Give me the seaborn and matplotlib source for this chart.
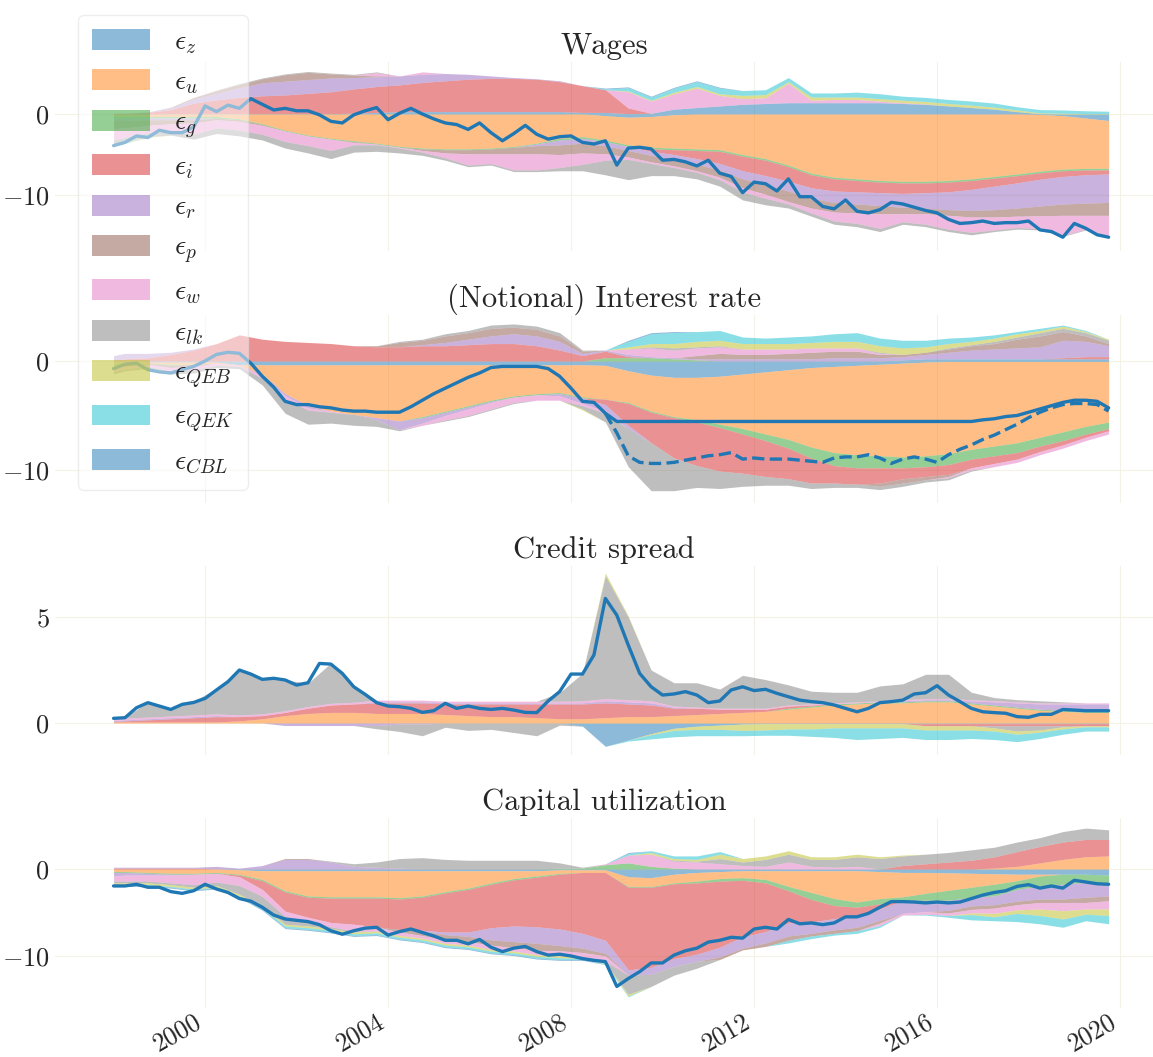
import numpy as np
import pandas as pd
import seaborn as sns
import matplotlib
matplotlib.use("Agg")
import matplotlib.pyplot as plt
from matplotlib.patches import Patch

# ---------------------------------------------------------------- data
shocks = ["z", "u", "g", "i", "r", "p", "w", "lk", "QEB", "QEK", "CBL"]
quarters = 1998 + 0.25 * np.arange(88)                      # 1998Q1 .. 2019Q4
band_dates = np.r_[1998.0, np.arange(1998.25, 2019.8, 0.5)]  # 45 points for the bands

wages_obs = [-3.9, -3.5, -2.7, -2.9, -2.0, -2.3, -2.3, -1.6,
             1.0, 0.3, 1.1, 0.7, 1.9, 1.2, 0.5, 0.7,
             0.4, 0.4, -0.1, -0.9, -1.1, -0.1, 0.4, 0.8,
             -0.7, 0.1, 0.7, 0.0, -0.6, -1.1, -1.3, -1.9,
             -1.1, -2.3, -3.3, -2.4, -1.4, -2.5, -3.1, -2.8,
             -2.7, -3.5, -3.7, -3.3, -6.3, -4.2, -4.1, -4.3,
             -5.7, -5.6, -5.9, -6.4, -5.7, -7.3, -7.7, -9.7,
             -8.4, -8.6, -9.5, -8.0, -10.2, -10.2, -11.4, -11.7,
             -10.6, -12.0, -12.2, -11.8, -10.9, -11.1, -11.5, -11.9,
             -12.2, -13.0, -13.5, -13.4, -13.2, -13.5, -13.4, -13.4,
             -13.2, -14.3, -14.5, -15.2, -13.5, -14.1, -14.9, -15.2]

rate_obs = [-0.7, -0.3, -0.2, -0.8, -1.0, -1.1, -0.8, -0.5,
            0.0, 0.6, 0.8, 0.7, -0.2, -1.4, -2.4, -3.7,
            -4.0, -4.0, -4.2, -4.3, -4.5, -4.6, -4.6, -4.7,
            -4.7, -4.7, -4.2, -3.6, -3.0, -2.5, -2.0, -1.5,
            -1.1, -0.6, -0.5, -0.5, -0.5, -0.5, -0.7, -1.4,
            -2.5, -3.7, -3.8, -4.8, -5.55, -5.55, -5.55, -5.55,
            -5.55, -5.55, -5.55, -5.55, -5.55, -5.55, -5.55, -5.55,
            -5.55, -5.55, -5.55, -5.55, -5.55, -5.55, -5.55, -5.55,
            -5.55, -5.55, -5.55, -5.55, -5.55, -5.55, -5.55, -5.55,
            -5.55, -5.55, -5.55, -5.55, -5.4, -5.3, -5.1, -5.0,
            -4.7, -4.4, -4.1, -3.8, -3.6, -3.6, -3.7, -4.3]

# shadow (notional) rate, from 2008Q4 on
shadow_obs = [-4.8, -6.6, -8.7, -9.3, -9.4, -9.4, -9.3, -9.1, -8.9, -8.7,
              -8.6, -8.4, -9.0, -8.9, -9.0, -9.0, -9.0, -9.1, -9.2, -9.3,
              -8.9, -8.8, -8.8, -8.6, -8.9, -9.4, -9.0, -8.8, -9.0, -9.3,
              -8.6, -8.1, -7.7, -7.2, -6.8, -6.3, -5.8, -5.2, -4.7, -4.3,
              -4.0, -3.9, -3.9, -4.0, -4.6]

spread_obs = [0.22, 0.25, 0.72, 0.96, 0.80, 0.64, 0.88, 0.97,
              1.16, 1.56, 1.95, 2.50, 2.31, 2.06, 2.11, 2.03,
              1.79, 1.90, 2.81, 2.78, 2.34, 1.71, 1.35, 0.96,
              0.80, 0.77, 0.69, 0.50, 0.58, 0.93, 0.69, 0.80,
              0.69, 0.64, 0.69, 0.61, 0.50, 0.49, 1.04, 1.48,
              2.31, 2.31, 3.21, 5.88, 5.09, 3.68, 2.34, 1.71,
              1.32, 1.37, 1.48, 1.32, 0.96, 1.04, 1.56, 1.71,
              1.53, 1.59, 1.40, 1.24, 1.08, 1.01, 0.96, 0.85,
              0.69, 0.53, 0.69, 0.96, 1.01, 1.08, 1.37, 1.43,
              1.76, 1.32, 1.01, 0.69, 0.53, 0.49, 0.46, 0.30,
              0.27, 0.41, 0.41, 0.64, 0.61, 0.58, 0.58, 0.58]

util_obs = [-1.95, -1.95, -1.76, -2.1, -2.1, -2.6, -2.8, -2.5,
            -1.76, -2.3, -2.7, -3.4, -3.7, -4.4, -5.3, -5.75,
            -5.9, -6.05, -6.4, -7.1, -7.5, -7.1, -6.8, -6.7,
            -7.6, -7.2, -6.9, -7.3, -7.7, -8.2, -8.2, -8.6,
            -8.1, -9.0, -9.5, -9.1, -8.9, -9.5, -9.9, -9.8,
            -10.0, -10.3, -10.5, -10.65, -13.5, -12.6, -11.8, -10.8,
            -10.8, -9.9, -9.4, -9.1, -8.4, -8.2, -7.85, -7.95,
            -6.9, -6.7, -6.9, -5.8, -6.3, -6.2, -6.4, -6.2,
            -5.5, -5.5, -5.1, -4.4, -3.75, -3.75, -3.8, -3.9,
            -3.8, -3.9, -3.8, -3.4, -3.0, -2.7, -2.5, -2.0,
            -1.8, -2.2, -1.95, -2.2, -1.3, -1.5, -1.7, -1.76]

# ---- shock contributions on band_dates (positive part / negative part)
wages_pos = {
    "z":   [0, 0, 0, 0.05, 0.05, 0.05, 0.05, 0.05, 0.05, 0.05, 0.05, 0.1, 0.2, 0.3, 0.3,
            0.3, 0.3, 0.3, 0.3, 0.3, 0.3, 0.2, 0.2, 0.05, 0.1, 0.6, 0.8, 1.0, 1.2, 1.3,
            1.4, 1.4, 1.4, 1.4, 1.4, 1.3, 1.2, 1.0, 0.8, 0.6, 0.3, 0.05, 0, 0, 0],
    "i":   [0.1, 0.1, 0.2, 0.5, 1.3, 1.7, 2.0, 2.2, 2.3, 2.5, 2.7, 3.0, 3.2, 3.3, 3.6,
            3.8, 4.0, 4.1, 4.1, 4.0, 3.7, 3.3, 2.8, 0.7, 0, 0, 0, 0, 0, 0,
            0, 0, 0, 0, 0, 0, 0, 0, 0, 0, 0, 0, 0, 0, 0],
    "r":   [0, 0, 0.05, 0.2, 0.5, 0.8, 1.2, 1.6, 1.7, 1.7, 1.7, 1.4, 1.2, 1.1, 1.0,
            0.9, 0.6, 0.3, 0.1, 0.05, 0.1, 0, 0, 0, 0, 0, 0, 0, 0, 0,
            0, 0, 0, 0, 0, 0, 0, 0, 0, 0, 0, 0, 0, 0, 0],
    "p":   [0, 0, 0, 0.1, 0.2, 0.3, 0.4, 0.5, 0.8, 0.9, 0.5, 0.3, 0.1, 0, 0,
            0, 0, 0, 0, 0, 0, 0, 0, 0, 0, 0, 0, 0, 0, 0,
            0, 0, 0, 0, 0, 0, 0, 0, 0, 0, 0, 0, 0, 0, 0],
    "w":   [0, 0, 0, 0, 0, 0, 0, 0, 0, 0, 0, 0, 0.4, 0, 0.3,
            0, 0, 0, 0, 0, 0, 0, 0, 2.0, 1.5, 1.9, 2.4, 1.3, 0.7, 0.7,
            2.4, 0.3, 0.4, 0.4, 0.2, 0.1, 0.05, 0, 0, 0, 0, 0, 0, 0, 0],
    "lk":  [0, 0, 0, 0, 0, 0.1, 0.1, 0.1, 0.1, 0.1, 0.1, 0.1, 0.1, 0, 0,
            0, 0, 0, 0, 0, 0, 0, 0, 0, 0, 0, 0, 0, 0, 0,
            0, 0, 0, 0, 0, 0, 0, 0, 0, 0, 0, 0, 0, 0, 0],
    "QEB": [0, 0, 0, 0, 0, 0, 0, 0, 0, 0, 0, 0, 0, 0, 0,
            0, 0, 0, 0, 0, 0, 0, 0, 0.1, 0.1, 0.2, 0.2, 0.2, 0.4, 0.4,
            0.2, 0.4, 0.3, 0.3, 0.3, 0.3, 0.3, 0.3, 0.3, 0.25, 0.2, 0.1, 0.1, 0.05, 0.05],
    "QEK": [0, 0, 0, 0, 0, 0, 0, 0, 0, 0, 0, 0, 0, 0, 0,
            0, 0, 0, 0, 0, 0, 0, 0.1, 0.4, 0.4, 0.5, 0.6, 0.7, 0.6, 0.6,
            0.5, 0.5, 0.5, 0.6, 0.6, 0.5, 0.5, 0.5, 0.5, 0.5, 0.4, 0.4, 0.4, 0.35, 0.3],
    "CBL": [0, 0, 0, 0, 0, 0, 0, 0, 0, 0, 0, 0, 0, 0, 0,
            0, 0, 0, 0, 0, 0, 0, 0.1, 0.1, 0.1, 0.1, 0.1, 0.1, 0, 0,
            0, 0, 0, 0, 0, 0, 0, 0, 0, 0, 0, 0, 0, 0, 0],
}
wages_neg = {
    "z":   [0, 0, 0, 0, 0, 0, 0, 0, 0, 0, 0, 0, 0, 0, 0,
            0, 0, 0, 0, 0, 0, 0, -0.2, -0.4, -0.3, -0.1, 0, 0, 0, 0,
            0, 0, 0, 0, 0, 0, 0, 0, 0, 0, 0, -0.05, -0.2, -0.5, -0.8],
    "u":   [-0.3, -0.3, -0.3, -0.3, -0.3, -0.3, -0.6, -1.2, -2.0, -2.6, -3.0, -3.3, -3.6, -4.0, -4.2,
            -4.3, -4.3, -4.2, -4.0, -3.6, -3.0, -2.8, -3.0, -3.4, -3.8, -4.1, -4.3, -4.4, -5.0, -5.5,
            -6.3, -7.3, -7.8, -8.0, -8.2, -8.3, -8.3, -8.2, -8.0, -7.7, -7.4, -7.0, -6.6, -6.2, -5.9],
    "g":   [-0.2, -0.2, -0.2, -0.2, -0.2, -0.2, -0.1, -0.1, -0.1, -0.1, -0.1, -0.1, -0.1, -0.1, -0.1,
            -0.1, -0.1, -0.1, -0.1, -0.1, -0.2, -0.2, -0.2, -0.2, -0.2, -0.2, -0.2, -0.2, -0.2, -0.2,
            -0.2, -0.2, -0.2, -0.2, -0.2, -0.2, -0.2, -0.2, -0.2, -0.2, -0.2, -0.2, -0.2, -0.2, -0.2],
    "i":   [0, 0, 0, 0, 0, 0, 0, 0, 0, 0, 0, 0, 0, 0, 0,
            0, 0, 0, 0, 0, 0, 0, 0, 0, -0.3, -0.6, -1.0, -1.5, -1.8, -1.9,
            -1.8, -1.6, -1.5, -1.4, -1.3, -1.3, -1.2, -1.2, -1.1, -1.0, -0.9, -0.8, -0.7, -0.6, -0.5],
    "r":   [-0.3, -0.3, -0.2, -0.2, -0.2, 0, 0, 0, 0, 0, 0, 0, 0, 0, 0,
            0, 0, 0, 0, -0.2, -0.6, -0.6, -0.5, -0.5, -0.5, -0.6, -0.7, -0.8, -1.0, -1.1,
            -1.2, -1.3, -1.4, -1.5, -1.6, -1.7, -1.9, -2.2, -2.6, -2.9, -3.1, -3.3, -3.4, -3.5, -3.5],
    "p":   [-1.0, -0.9, -0.7, -0.5, -0.4, -0.2, -0.2, -0.1, 0, 0, 0, -0.1, 0, 0, -0.2,
            -0.4, -0.5, -0.6, -0.8, -1.0, -1.2, -1.2, -1.0, -0.8, -0.8, -0.8, -0.8, -0.9, -1.1, -1.2,
            -1.3, -1.2, -1.2, -1.1, -1.0, -0.8, -0.7, -0.7, -0.8, -0.9, -1.0, -1.2, -1.4, -1.5, -1.6],
    "w":   [-1.4, -1.2, -0.9, -0.9, -1.4, -1.0, -1.1, -1.1, -1.3, -1.2, -1.4, -0.3, -0.1, -0.1, -0.2,
            -0.6, -1.4, -1.2, -2.0, -2.0, -1.6, -1.4, -0.8, -0.3, -0.2, -0.2, -0.2, -0.3, -0.5, -0.5,
            -0.3, -0.6, -1.1, -1.3, -1.8, -1.0, -1.3, -1.7, -1.9, -1.6, -1.4, -1.6, -2.5, -1.7, -2.6],
    "lk":  [-0.5, -0.5, -0.5, -0.5, -0.6, -0.7, -0.7, -0.7, -0.8, -0.9, -1.0, -0.9, -0.8, -0.6, -0.4,
            -0.3, -0.2, -0.2, -0.2, -0.2, -0.4, -0.8, -1.8, -2.5, -1.5, -1.0, -0.8, -0.8, -1.0, -0.8,
            -0.5, -0.4, -0.4, -0.4, -0.4, -0.3, -0.3, -0.3, -0.3, -0.2, -0.2, -0.15, -0.1, -0.1, -0.1],
    "QEB": [-0.2, -0.1, -0.1, 0, 0, 0, 0, 0, 0, 0, 0, 0, 0, 0, 0,
            0, 0, 0, 0, 0, 0, 0, 0, 0, 0, 0, 0, 0, 0, 0,
            0, 0, 0, 0, 0, 0, 0, 0, 0, 0, 0, 0, 0, 0, 0],
    "QEK": [-0.1, -0.1, 0, 0, 0, 0, 0, 0, 0, 0, 0, 0, 0, 0, 0,
            0, 0, 0, 0, 0, 0, 0, 0, 0, 0, 0, 0, 0, 0, 0,
            0, 0, 0, 0, 0, 0, 0, 0, 0, 0, 0, 0, 0, 0, 0],
}

rate_pos = {
    "z":   [0, 0, 0, 0, 0, 0, 0, 0, 0, 0, 0, 0, 0, 0, 0,
            0, 0, 0, 0, 0, 0, 0, 0, 0, 0, 0, 0, 0, 0, 0,
            0, 0, 0, 0, 0, 0.1, 0.2, 0.2, 0.2, 0.2, 0.2, 0.2, 0.2, 0.2, 0.2],
    "g":   [0, 0, 0, 0, 0, 0, 0, 0, 0, 0, 0, 0, 0, 0, 0,
            0, 0, 0, 0, 0, 0, 0, 0.3, 0.3, 0.3, 0.2, 0.1, 0, 0, 0,
            0, 0, 0, 0, 0, 0, 0, 0, 0, 0, 0, 0, 0, 0, 0],
    "i":   [0.1, 0.2, 0.3, 0.6, 1.0, 1.6, 2.4, 2.0, 1.8, 1.7, 1.6, 1.4, 1.3, 1.3, 1.4,
            1.4, 1.5, 1.6, 1.6, 1.4, 1.0, 0.5, 0.6, 0.1, 0, 0, 0, 0, 0, 0,
            0, 0, 0, 0, 0, 0, 0, 0, 0, 0, 0, 0, 0.1, 0.2, 0.2],
    "r":   [0.4, 0.5, 0.4, 0.2, 0.1, 0, 0, 0, 0, 0, 0, 0, 0, 0, 0.1,
            0.3, 0.5, 0.7, 0.9, 0.9, 0.8, 0.2, 0.1, 0.2, 0.1, 0.1, 0.1, 0.2, 0.2, 0.2,
            0.2, 0.2, 0.3, 0.3, 0.3, 0.3, 0.4, 0.6, 0.8, 0.9, 1.0, 1.1, 1.6, 1.4, 1.0],
    "p":   [0, 0, 0, 0, 0, 0, 0, 0, 0, 0, 0, 0, 0.1, 0.4, 0.4,
            0.6, 0.6, 0.7, 0.6, 0.6, 0.5, 0.2, 0, 0, 0, 0, 0.3, 0.5, 0.4, 0.4,
            0.5, 0.6, 0.6, 0.6, 0.3, 0.2, 0.2, 0.3, 0.4, 0.5, 0.8, 1.0, 0.8, 0.5, 0.2],
    "w":   [0, 0, 0, 0, 0, 0, 0, 0, 0, 0, 0, 0, 0, 0, 0,
            0, 0, 0, 0, 0, 0, 0, 0, 0.5, 0.8, 0.7, 0.7, 0.6, 0.5, 0.5,
            0.4, 0.4, 0.3, 0.3, 0.1, 0, 0, 0, 0, 0, 0, 0, 0, 0, 0],
    "lk":  [0, 0, 0, 0, 0, 0, 0, 0, 0, 0, 0, 0, 0, 0.1, 0.1,
            0.2, 0.2, 0.3, 0.3, 0.3, 0.3, 0.1, 0, 0, 0.1, 0.2, 0.1, 0.1, 0, 0,
            0, 0, 0, 0, 0.1, 0, 0, 0.1, 0.1, 0.2, 0.2, 0.3, 0.3, 0.3, 0.3],
    "QEB": [0, 0, 0, 0, 0, 0, 0, 0, 0, 0, 0, 0, 0, 0, 0,
            0, 0, 0, 0, 0, 0, 0, 0, 0.2, 0.3, 0.4, 0.5, 0.5, 0.5, 0.5,
            0.5, 0.5, 0.6, 0.6, 0.6, 0.6, 0.5, 0.4, 0.3, 0.3, 0.3, 0.2, 0.2, 0.1, 0.1],
    "QEK": [0, 0, 0, 0, 0, 0, 0, 0, 0, 0, 0, 0, 0, 0, 0,
            0, 0, 0, 0, 0, 0, 0, 0, 0.5, 0.9, 1.0, 0.9, 0.9, 0.6, 0.5,
            0.6, 0.6, 0.7, 0.8, 0.7, 0.7, 0.6, 0.5, 0.4, 0.3, 0.2, 0.2, 0.1, 0.1, 0],
    "CBL": [0, 0, 0, 0, 0, 0, 0, 0, 0, 0, 0, 0, 0, 0, 0,
            0, 0, 0, 0, 0, 0, 0, 0, 0.1, 0.1, 0.1, 0, 0, 0, 0,
            0, 0, 0, 0, 0, 0, 0, 0, 0, 0, 0, 0, 0, 0, 0],
}
rate_neg = {
    "z":   [-0.1, -0.1, -0.1, -0.1, -0.1, -0.1, -0.35, -0.35, -0.35, -0.35, -0.35, -0.35, -0.35, -0.35, -0.35,
            -0.35, -0.35, -0.35, -0.35, -0.35, -0.35, -0.35, -0.4, -0.9, -1.3, -1.5, -1.5, -1.4, -1.2, -1.0,
            -0.8, -0.6, -0.5, -0.4, -0.3, -0.2, -0.1, -0.05, -0.05, -0.05, -0.05, -0.05, -0.05, -0.05, -0.05],
    "u":   [-0.1, -0.1, -0.1, -0.2, -0.2, -0.1, -0.05, -0.85, -2.65, -3.75, -4.25, -4.55, -4.85, -5.15, -4.75,
            -4.25, -3.75, -3.25, -2.85, -2.65, -2.55, -2.95, -3.1, -2.9, -3.3, -3.6, -3.9, -4.4, -5.0, -5.7,
            -6.4, -7.3, -7.9, -8.2, -8.4, -8.6, -8.6, -8.45, -8.05, -7.75, -7.45, -6.95, -6.45, -5.95, -5.55],
    "g":   [-0.2, -0.1, 0, -0.1, 0, 0, 0, 0, 0, 0, 0, 0, 0, 0, -0.1,
            -0.1, -0.1, -0.1, -0.1, -0.1, -0.1, -0.1, 0, -0.1, -0.1, -0.1, -0.2, -0.3, -0.5, -0.6,
            -0.8, -1.0, -1.2, -1.2, -1.1, -1.0, -1.0, -1.0, -0.9, -0.9, -0.9, -0.8, -0.8, -0.7, -0.6],
    "i":   [0, 0, 0, 0, 0, 0, 0, 0, 0, 0, 0, 0, 0, 0, 0,
            0, 0, 0, 0, 0, 0, 0, -0.5, -2.0, -2.8, -3.7, -4.0, -4.0, -3.6, -3.3,
            -2.8, -2.3, -1.6, -1.5, -1.4, -1.0, -0.9, -0.9, -0.8, -0.7, -0.6, -0.5, -0.4, -0.3, -0.2],
    "r":   [0, 0, 0, 0, 0, 0, 0, -0.1, -0.2, -0.2, 0, 0, -0.2, -0.8, -0.5,
            -0.3, -0.2, -0.1, 0, 0, -0.2, -0.5, -0.6, -0.3, 0, 0, 0, 0, 0, 0,
            0, 0, 0, 0, 0, 0, 0, 0, 0, 0, 0, 0, 0, 0, 0],
    "p":   [-0.2, -0.2, -0.1, -0.2, -0.2, 0, 0, 0, 0, 0, 0, 0, 0, 0, 0,
            0, 0, 0, 0, 0, 0, 0, 0, 0, 0, 0, 0, 0, 0, 0,
            0, 0, 0, 0, -0.3, -0.4, -0.3, -0.2, 0, 0, 0, 0, 0, 0, 0],
    "w":   [-0.3, -0.2, -0.2, -0.3, -0.3, -0.2, -0.1, -0.3, -0.3, -0.2, -0.1, 0, 0, 0, -0.2,
            -0.4, -0.6, -0.6, -0.5, -0.5, -0.4, -0.2, -0.2, 0, 0, 0, 0, 0, 0, 0,
            0, 0, 0, 0, 0, 0, 0, -0.1, -0.2, -0.3, -0.3, -0.3, -0.3, -0.3, -0.3],
    "lk":  [-0.3, -0.2, -0.2, -0.3, -0.3, -0.2, -0.2, -0.6, -1.3, -1.3, -1.0, -1.0, -0.6, -0.1, 0,
            -0.1, -0.1, -0.1, -0.1, 0, 0, -0.3, -0.8, -3.5, -4.4, -3.0, -2.0, -1.6, -1.2, -0.8,
            -0.6, -0.5, -0.4, -0.3, -0.3, -0.3, -0.2, -0.2, -0.1, 0, 0, 0, 0, 0, 0],
    "QEB": [0, 0, 0, 0, 0, 0, 0, 0, 0, 0, 0, 0, 0, 0, 0,
            0, 0, 0, 0, 0, 0, -0.1, 0, 0, 0, 0, 0, 0, 0, 0,
            0, 0, 0, 0, 0, 0, 0, 0, 0, 0, 0, 0, 0, 0, 0],
}

spread_pos = {
    "u":   [0.05, 0.05, 0.05, 0.05, 0.05, 0.05, 0.1, 0.2, 0.35, 0.45, 0.5, 0.5, 0.45, 0.45, 0.45,
            0.4, 0.35, 0.3, 0.3, 0.25, 0.2, 0.2, 0.25, 0.3, 0.3, 0.35, 0.4, 0.45, 0.5, 0.55,
            0.65, 0.75, 0.85, 0.9, 0.95, 0.95, 1.0, 1.0, 0.9, 0.8, 0.7, 0.6, 0.55, 0.5, 0.5],
    "g":   [0, 0, 0, 0, 0, 0, 0, 0, 0, 0, 0, 0, 0, 0, 0,
            0, 0, 0, 0, 0, 0, 0, 0, 0, 0, 0, 0, 0, 0, 0,
            0.05, 0.05, 0.05, 0.05, 0.05, 0.05, 0.05, 0.05, 0.05, 0.05, 0.05, 0.05, 0.05, 0.05, 0.05],
    "i":   [0.02, 0.05, 0.1, 0.15, 0.2, 0.25, 0.2, 0.15, 0.15, 0.25, 0.35, 0.4, 0.5, 0.5, 0.5,
            0.5, 0.55, 0.6, 0.6, 0.65, 0.7, 0.7, 0.7, 0.6, 0.55, 0.35, 0.3, 0.2, 0.15, 0.1,
            0.1, 0.05, 0, 0, 0, 0, 0, 0, 0, 0, 0, 0, 0, 0, 0],
    "r":   [0.05, 0.05, 0.05, 0.05, 0.05, 0.05, 0, 0, 0, 0, 0, 0, 0.05, 0.05, 0.05,
            0.05, 0.05, 0.05, 0.05, 0.05, 0.05, 0.05, 0.1, 0.1, 0.1, 0.05, 0, 0, 0, 0,
            0, 0, 0, 0, 0, 0.05, 0.05, 0.05, 0.1, 0.15, 0.2, 0.25, 0.3, 0.35, 0.35],
    "w":   [0.08, 0.08, 0.08, 0.08, 0.08, 0.08, 0.08, 0.08, 0.08, 0.08, 0.08, 0.08, 0.08, 0.08, 0.08,
            0.08, 0.08, 0.08, 0.08, 0.08, 0.08, 0.1, 0.1, 0.1, 0.1, 0.05, 0.05, 0.05, 0.05, 0.05,
            0.05, 0.05, 0.05, 0.05, 0.05, 0.05, 0.05, 0.05, 0.05, 0.05, 0.05, 0.05, 0.05, 0.05, 0.05],
    "lk":  [0.05, 0.05, 0.7, 0.35, 0.65, 1.2, 2.1, 1.65, 1.45, 1.1, 1.9, 0.75, 0, 0, 0,
            0, 0, 0, 0, 0, 0.4, 1.3, 5.8, 3.9, 1.45, 1.1, 1.15, 0.9, 1.55, 1.35,
            0.95, 0.6, 0.5, 0.45, 0.7, 0.75, 1.15, 1.15, 0.35, 0.15, 0.1, 0.1, 0.05, 0, 0],
    "QEB": [0, 0, 0, 0, 0, 0, 0, 0, 0, 0, 0, 0, 0, 0, 0,
            0, 0, 0, 0, 0, 0, 0, 0.12, 0.05, 0, 0, 0, 0, 0, 0,
            0, 0, 0, 0, 0, 0, 0, 0, 0, 0, 0, 0, 0, 0, 0],
}
spread_neg = {
    "z":   [0, 0, 0, 0, 0, 0, 0, 0, 0, 0, 0, 0, 0, 0, 0,
            0, 0, 0, 0, 0, 0, -0.15, -1.1, -0.8, -0.5, -0.25, -0.15, -0.1, -0.05, -0.03,
            -0.03, -0.03, -0.03, -0.03, -0.03, -0.03, -0.03, -0.03, -0.03, -0.03, -0.03, -0.03, -0.03, -0.03, -0.03],
    "i":   [0, 0, 0, 0, 0, 0, 0, 0, 0, 0, 0, 0, 0, 0, 0,
            0, 0, 0, 0, 0, 0, 0, 0, 0, 0, 0, 0, 0, 0, 0,
            0, 0, 0, 0, 0, 0, -0.1, -0.1, -0.1, -0.1, -0.1, -0.1, -0.1, -0.1, -0.1],
    "r":   [0, 0, 0, 0, 0, 0, 0, 0, -0.12, -0.12, -0.12, -0.12, -0.12, -0.05, -0.05,
            0, 0, 0, 0, 0, 0, 0, 0, 0, 0, 0, 0, 0, 0, 0,
            0, 0, 0, 0, 0, 0, 0, 0, 0, 0, 0, 0, 0, 0, 0],
    "lk":  [0, 0, 0, 0, 0, 0, 0, 0, 0, 0, 0, 0, -0.15, -0.35, -0.55,
            -0.2, -0.35, -0.3, -0.45, -0.6, -0.1, 0, 0, 0, 0, 0, 0, 0, 0, 0,
            0, 0, 0, 0, 0, 0, 0, 0, 0, -0.1, -0.25, -0.2, -0.05, 0, 0],
    "QEB": [0, 0, 0, 0, 0, 0, 0, 0, 0, 0, 0, 0, 0, 0, 0,
            0, 0, 0, 0, 0, 0, 0, 0, 0, -0.05, -0.1, -0.15, -0.2, -0.3, -0.3,
            -0.25, -0.25, -0.2, -0.2, -0.2, -0.2, -0.2, -0.2, -0.2, -0.15, -0.15, -0.1, -0.1, -0.05, -0.05],
    "QEK": [0, 0, 0, 0, 0, 0, 0, 0, 0, 0, 0, 0, 0, 0, 0,
            0, 0, 0, 0, 0, 0, 0, 0, -0.05, -0.2, -0.3, -0.3, -0.3, -0.25, -0.25,
            -0.3, -0.35, -0.45, -0.55, -0.5, -0.45, -0.45, -0.45, -0.4, -0.4, -0.35, -0.3, -0.25, -0.2, -0.2],
}

util_pos = {
    "u":   [0, 0, 0, 0, 0, 0, 0, 0, 0, 0, 0, 0, 0, 0, 0,
            0, 0, 0, 0, 0, 0, 0, 0, 0, 0, 0, 0, 0, 0, 0,
            0, 0, 0, 0, 0, 0, 0, 0, 0, 0.1, 0.3, 0.7, 1.1, 1.4, 1.5],
    "g":   [0, 0, 0, 0, 0, 0, 0, 0, 0, 0, 0, 0, 0, 0, 0,
            0, 0, 0, 0, 0, 0.1, 0.1, 0.5, 0.7, 0.3, 0.1, 0, 0, 0, 0,
            0, 0, 0, 0, 0, 0, 0, 0, 0, 0, 0, 0, 0, 0, 0],
    "i":   [0.1, 0.1, 0.1, 0.1, 0.1, 0, 0, 0, 0, 0, 0, 0, 0, 0, 0,
            0, 0, 0, 0, 0, 0, 0, 0, 0, 0, 0, 0, 0, 0, 0,
            0, 0, 0, 0, 0, 0.4, 0.6, 0.8, 1.0, 1.3, 1.7, 1.9, 2.0, 2.0, 1.9],
    "r":   [0.1, 0.1, 0.1, 0.1, 0.1, 0.3, 0.1, 0.4, 1.1, 1.1, 0.8, 0.3, 0.2, 0.1, 0,
            0, 0, 0, 0, 0, 0, 0, 0, 0, 0, 0, 0, 0, 0, 0,
            0, 0, 0, 0, 0, 0, 0, 0, 0, 0, 0, 0, 0, 0, 0],
    "p":   [0, 0, 0, 0, 0, 0, 0, 0, 0.1, 0.1, 0, 0, 0, 0, 0,
            0, 0, 0, 0, 0, 0, 0, 0, 0, 0, 0, 0, 0, 0, 0,
            0, 0, 0, 0, 0, 0, 0, 0, 0, 0, 0, 0, 0, 0, 0],
    "w":   [0, 0, 0, 0, 0, 0, 0, 0, 0, 0, 0, 0, 0, 0, 0,
            0, 0, 0, 0, 0, 0, 0, 0.1, 0.9, 1.4, 0.8, 0.8, 0.6, 0.4, 0.3,
            0.8, 0.3, 0.2, 0.3, 0, 0, 0, 0, 0, 0, 0, 0, 0, 0, 0],
    "lk":  [0, 0, 0, 0, 0, 0, 0, 0, 0, 0, 0.1, 0.3, 0.6, 1.1, 1.3,
            1.1, 1.0, 1.0, 1.0, 1.0, 0.6, 0.1, 0, 0, 0, 0.1, 0.1, 0.6, 0.4, 0.8,
            0.9, 0.8, 0.9, 1.1, 1.2, 1.1, 1.1, 1.1, 1.2, 1.1, 1.1, 1.0, 1.2, 1.3, 1.1],
    "QEB": [0, 0, 0, 0, 0, 0, 0, 0, 0, 0, 0, 0, 0, 0, 0,
            0, 0, 0, 0, 0, 0, 0, 0, 0, 0.2, 0.2, 0.2, 0.5, 0.4, 0.4,
            0.4, 0.3, 0.3, 0.3, 0.2, 0.1, 0, 0, 0, 0, 0, 0, 0, 0, 0],
    "QEK": [0, 0, 0, 0, 0, 0, 0, 0, 0, 0, 0, 0, 0, 0, 0,
            0, 0, 0, 0, 0, 0, 0, 0, 0.2, 0.2, 0.3, 0.4, 0.3, 0, 0,
            0, 0, 0, 0, 0, 0, 0, 0, 0, 0, 0, 0, 0, 0, 0],
    "CBL": [0, 0, 0, 0, 0, 0, 0, 0, 0, 0, 0, 0, 0, 0, 0,
            0, 0, 0, 0, 0, 0, 0, 0, 0.1, 0, 0, 0, 0, 0, 0,
            0, 0, 0, 0, 0, 0, 0, 0, 0, 0, 0, 0, 0, 0, 0],
}
util_neg = {
    "z":   [0, 0, 0, 0, 0, 0, -0.1, -0.2, -0.2, -0.2, -0.2, -0.2, -0.2, -0.2, -0.2,
            -0.2, -0.2, -0.2, -0.2, -0.2, -0.1, -0.1, -0.1, -0.9, -1.0, -0.6, -0.4, -0.3, -0.2, -0.2,
            -0.2, -0.2, -0.2, -0.2, -0.3, -0.4, -0.4, -0.45, -0.5, -0.55, -0.6, -0.6, -0.6, -0.6, -0.7],
    "u":   [-0.3, -0.3, -0.4, -0.5, -0.5, -0.4, -0.5, -1.0, -2.3, -2.9, -3.0, -3.0, -3.0, -3.1, -2.9,
            -2.4, -2.0, -1.4, -0.9, -0.6, -0.4, -0.3, -0.3, -1.1, -1.0, -1.0, -1.0, -0.8, -0.8, -1.0,
            -1.8, -2.5, -3.2, -3.6, -3.1, -2.8, -2.4, -2.0, -1.6, -1.2, -0.75, -0.2, 0, 0, 0],
    "g":   [-0.1, -0.1, -0.1, -0.1, -0.1, -0.1, -0.1, -0.15, -0.15, -0.15, -0.15, -0.15, -0.15, -0.15, -0.15,
            -0.15, -0.15, -0.15, -0.15, -0.15, -0.1, 0, 0, -0.1, -0.1, -0.1, -0.2, -0.3, -0.3, -0.4,
            -0.5, -0.8, -0.8, -0.6, -0.6, -0.4, -0.8, -1.15, -1.15, -1.35, -1.0, -1.15, -1.15, -0.95, -0.85],
    "i":   [0, 0, 0, 0, 0, 0, -0.2, -1.0, -2.2, -2.3, -2.8, -3.0, -3.3, -3.5, -3.8,
            -4.5, -4.9, -5.0, -5.3, -5.7, -6.3, -7.0, -7.8, -9.5, -9.2, -8.6, -8.2, -7.6, -6.5, -5.6,
            -3.7, -2.6, -1.5, -1.0, -0.6, 0, 0, 0, 0, 0, 0, 0, 0, 0, 0],
    "r":   [-0.4, -0.3, -0.2, -0.1, 0, 0, 0, 0, 0, 0, 0, 0, 0, 0, -0.1,
            -0.3, -0.5, -1.4, -1.8, -1.9, -1.9, -1.7, -1.5, -0.6, -0.8, -0.9, -0.8, -1.1, -1.3, -1.3,
            -1.5, -1.3, -1.3, -1.3, -1.3, -1.5, -1.3, -1.15, -1.0, -1.0, -1.35, -1.5, -1.7, -1.7, -1.55],
    "p":   [0, 0, 0, 0, 0, 0, 0, 0, 0, 0, 0, 0, 0, -0.3, -0.5,
            -0.6, -0.6, -0.6, -0.7, -0.8, -0.6, -0.5, -0.3, 0, 0, 0, 0, -0.3, -0.2, -0.4,
            -0.5, -0.3, -0.4, -0.4, -0.3, 0, 0, -0.3, -0.4, -0.4, -0.4, -0.4, -0.4, -0.6, -0.55],
    "w":   [-0.6, -0.7, -0.7, -0.9, -1.2, -1.0, -1.0, -0.8, -0.6, -0.6, -0.5, -0.8, -0.5, -0.4, -0.3,
            -0.4, -0.4, -0.5, -0.4, -0.5, -0.6, -0.5, -0.6, 0, 0, 0, 0, 0, 0, 0,
            0, 0, 0, 0, -0.3, -0.2, -0.3, -0.3, -0.4, -0.6, -0.6, -0.75, -0.95, -0.75, -0.95],
    "lk":  [-0.2, -0.2, -0.2, -0.2, -0.3, -0.4, -1.0, -1.1, -0.9, -0.4, -0.2, -0.1, 0, 0, 0,
            0, 0, 0, 0, 0, 0, 0, -0.2, -2.2, -1.4, -1.0, -0.8, 0, 0, 0,
            0, 0, 0, 0, 0, 0, 0, 0, 0, 0, 0, 0, 0, 0, 0],
    "QEB": [-0.2, -0.2, -0.2, -0.2, -0.2, -0.2, -0.2, -0.2, -0.2, -0.2, -0.2, -0.2, -0.2, -0.2, -0.2,
            -0.2, -0.2, -0.2, -0.2, -0.2, -0.2, -0.2, -0.1, -0.2, 0, 0, 0, 0, 0, 0,
            0, 0, 0, 0, 0, 0, 0, 0, -0.2, -0.4, -0.4, -0.75, -0.95, -0.6, -0.75],
    "QEK": [-0.1, -0.1, -0.1, -0.1, -0.1, -0.1, -0.1, -0.2, -0.2, -0.2, -0.2, -0.2, -0.2, -0.2, -0.2,
            -0.2, -0.2, -0.2, -0.2, -0.2, -0.2, -0.1, -0.1, -0.1, 0, 0, 0, 0, 0, 0,
            -0.3, -0.3, -0.2, -0.3, -0.2, 0, -0.1, -0.2, -0.6, -0.45, -0.95, -0.95, -0.95, -0.75, -0.95],
    "CBL": [-0.1, -0.1, -0.1, -0.1, -0.1, -0.1, -0.1, -0.1, -0.1, -0.1, -0.1, -0.1, -0.1, -0.1, -0.1,
            -0.1, -0.1, -0.1, -0.1, -0.1, -0.1, -0.1, 0, 0, 0, 0, 0, 0, 0, 0,
            0, 0, 0, 0, 0, 0, 0, 0, 0, 0, 0, 0, 0, 0, 0],
}

titles = ["Wages", "(Notional) Interest rate", "Credit spread", "Capital utilization"]
year_ticks = [2000, 2004, 2008, 2012, 2016, 2020]

# ---------------------------------------------------------------- style
sns.set_style("whitegrid", {"grid.color": "#f4f1e6", "axes.edgecolor": "white"})
plt.rcParams["font.family"] = ["serif"]
plt.rcParams["font.serif"] = ["cmr10", "DejaVu Serif"]
plt.rcParams["mathtext.fontset"] = "cm"
plt.rcParams["axes.unicode_minus"] = False

palette = sns.color_palette("tab10")
shock_colors = [palette[k % 10] for k in range(len(shocks))]
line_color = palette[0]

fig = plt.figure(figsize=(11.53, 10.57), dpi=100)
W, H = 1153.0, 1057.0
panel_px = [(62, 251), (315, 503), (566, 755), (818, 1008)]
ylims = [(-16.9, 6.42), (-13.03, 4.22), (-1.51, 7.41), (-15.98, 5.86)]
yticks = [[-10, 0], [-10, 0], [0, 5], [-10, 0]]


def draw_bands(ax, pos, neg):
    n = len(band_dates)
    top = np.zeros(n)
    bot = np.zeros(n)
    for name, col in zip(shocks, shock_colors):
        if name in pos:
            v = np.asarray(pos[name], float)
            ax.fill_between(band_dates, top, top + v, color=col, alpha=0.5, lw=0)
            top = top + v
        if name in neg:
            v = np.asarray(neg[name], float)
            ax.fill_between(band_dates, bot + v, bot, color=col, alpha=0.5, lw=0)
            bot = bot + v


panels = [(wages_pos, wages_neg, wages_obs),
          (rate_pos, rate_neg, rate_obs),
          (spread_pos, spread_neg, spread_obs),
          (util_pos, util_neg, util_obs)]

for k, ((pos, neg, obs), (t_px, b_px)) in enumerate(zip(panels, panel_px)):
    ax = fig.add_axes([55 / W, 1 - b_px / H, 1 - 55 / W, (b_px - t_px) / H])
    draw_bands(ax, pos, neg)
    df = pd.DataFrame({"date": quarters, "value": obs})
    sns.lineplot(data=df, x="date", y="value", ax=ax, color=line_color, lw=2.4)
    if k == 1:
        sd = pd.DataFrame({"date": quarters[43:], "value": shadow_obs})
        sns.lineplot(data=sd, x="date", y="value", ax=ax, color=line_color,
                     lw=2.4, linestyle="--")
    ax.set_xlim(1996.72, 2020.72)
    ax.set_ylim(*ylims[k])
    ax.set_yticks(yticks[k])
    ax.set_yticklabels([r"$%d$" % v if v >= 0 else r"$-%d$" % -v for v in yticks[k]],
                       fontsize=19)
    ax.set_xticks(year_ticks)
    ax.set_xlabel("")
    ax.set_ylabel("")
    ax.set_title(titles[k], fontsize=22)
    ax.tick_params(axis="y", length=0, pad=4)
    ax.tick_params(axis="x", length=0, pad=1)
    for s in ax.spines.values():
        s.set_visible(False)
    if k < 3:
        ax.set_xticklabels([])
    else:
        ax.set_xticklabels([str(y) for y in year_ticks], fontsize=18.5,
                           rotation=30, ha="right")

handles = [Patch(facecolor=c, alpha=0.5, lw=0) for c in shock_colors]
labels = [r"$\epsilon_{%s}$" % s for s in shocks]
fig.legend(handles, labels, loc="upper left", bbox_to_anchor=(78 / W, 1 - 15 / H),
           borderaxespad=0, fontsize=20, frameon=True, framealpha=0.5,
           edgecolor="#dddddd", fancybox=True, handlelength=2.1, handleheight=0.78,
           labelspacing=0.48, handletextpad=0.85, borderpad=0.5)

fig.savefig("out.png", dpi=100)
